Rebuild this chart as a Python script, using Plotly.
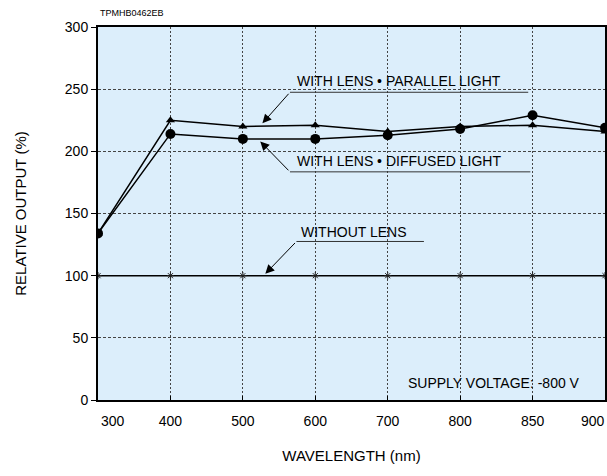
import plotly.graph_objects as go

# ---- data ----
wavelength_labels = ["300", "400", "500", "600", "700", "800", "850", "900"]
parallel_light = [134, 225, 220, 221, 216, 220, 221, 216]
diffused_light = [134, 214, 210, 210, 213, 218, 229, 219]
without_lens = [100, 100, 100, 100, 100, 100, 100, 100]
y_ticks = [0, 50, 100, 150, 200, 250, 300]

idx = list(range(len(wavelength_labels)))
# end labels are drawn as annotations (nudged inward, as in the reference)
tick_text = [""] + wavelength_labels[1:-1] + [""]

FONT = "Liberation Sans, Arial, Helvetica, sans-serif"

fig = go.Figure()
fig.add_trace(go.Scatter(x=idx, y=without_lens, mode="lines+markers",
                         line=dict(color="black", width=1.5),
                         marker=dict(symbol="asterisk-open", size=6, color="#222",
                                     line=dict(width=1, color="#222")),
                         name="WITHOUT LENS", showlegend=False))
fig.add_trace(go.Scatter(x=idx, y=diffused_light, mode="lines+markers",
                         line=dict(color="black", width=1.5),
                         marker=dict(symbol="circle", size=10, color="black"),
                         name="WITH LENS • DIFFUSED LIGHT", showlegend=False))
fig.add_trace(go.Scatter(x=idx, y=parallel_light, mode="lines+markers",
                         line=dict(color="black", width=1.5),
                         marker=dict(symbol="triangle-up", size=8, color="black"),
                         name="WITH LENS • PARALLEL LIGHT", showlegend=False))

grid_color = "#444444"
fig.update_xaxes(range=[0, len(idx) - 1], tickmode="array", tickvals=idx, ticktext=tick_text,
                 showgrid=True, gridcolor=grid_color, griddash="2px,2px", gridwidth=1,
                 showline=True, linecolor="black", linewidth=2, mirror=True,
                 ticks="inside", ticklen=4, tickcolor="black", ticklabelstandoff=7,
                 automargin=False,
                 tickfont=dict(size=14, color="black", family=FONT),
                 title=dict(text="WAVELENGTH (nm)", font=dict(size=15, color="black", family=FONT),
                            standoff=23),
                 zeroline=False)
fig.update_yaxes(range=[0, 300], tickmode="array", tickvals=y_ticks,
                 showgrid=True, gridcolor=grid_color, griddash="3px,2px", gridwidth=1,
                 showline=True, linecolor="black", linewidth=2, mirror=True,
                 ticks="outside", ticklen=5, tickcolor="black", automargin=False,
                 tickfont=dict(size=14, color="black", family=FONT),
                 title=dict(text="RELATIVE OUTPUT (%)", font=dict(size=15, color="black", family=FONT),
                            standoff=35),
                 zeroline=False)

tick_font = dict(size=14, color="black", family=FONT)
lab_font = dict(size=14, color="black", family=FONT)
anns = []
shapes = []

# end tick labels
anns.append(dict(x=idx[0], y=0, xref="x", yref="paper", text=wavelength_labels[0],
                 showarrow=False, xanchor="center", yanchor="top", xshift=15, yshift=-11,
                 font=tick_font))
anns.append(dict(x=idx[-1], y=0, xref="x", yref="paper", text=wavelength_labels[-1],
                 showarrow=False, xanchor="center", yanchor="top", xshift=-12, yshift=-11,
                 font=tick_font))

# label blocks: (text, text-left x, text y, underline y, underline x0, x1, tip x, tip y)
labels = [
    ("WITH LENS • PARALLEL LIGHT", 2.72, 256.5, 247.5, 2.65, 5.94, 2.27, 222.5),
    ("WITH LENS • DIFFUSED LIGHT", 2.72, 192.0, 183.5, 2.65, 5.97, 2.24, 208.0),
    ("WITHOUT LENS", 2.78, 135.5, 127.5, 2.74, 4.5, 2.31, 101.5),
]
for text, tx, ty, uy, ux0, ux1, tipx, tipy in labels:
    anns.append(dict(x=tx, y=ty, xref="x", yref="y", text=text, showarrow=False,
                     xanchor="left", yanchor="middle", font=lab_font))
    shapes.append(dict(type="line", xref="x", yref="y", x0=ux0, x1=ux1, y0=uy, y1=uy,
                       line=dict(color="#333", width=1)))
    anns.append(dict(x=tipx, y=tipy, xref="x", yref="y", ax=ux0, ay=uy, axref="x", ayref="y",
                     text="", showarrow=True, arrowhead=2, arrowsize=1.8, arrowwidth=1,
                     arrowcolor="black", standoff=0))

anns.append(dict(x=6.68, y=14, xref="x", yref="y", text="SUPPLY VOLTAGE: -800 V",
                 showarrow=False, xanchor="right", yanchor="middle", font=lab_font))
anns.append(dict(x=0.0, y=1.037, xref="paper", yref="paper", text="TPMHB0462EB",
                 showarrow=False, xanchor="left", yanchor="middle",
                 font=dict(size=9, color="black", family=FONT)))

fig.update_layout(width=607, height=476,
                  margin=dict(l=98, r=2, t=27, b=76),
                  paper_bgcolor="white", plot_bgcolor="#DCEEFB",
                  font=dict(family=FONT, color="black"),
                  annotations=anns, shapes=shapes, showlegend=False)

fig.write_html("out.html", config={"displayModeBar": False},
               post_script="document.body.style.margin='0';document.body.style.overflow='hidden';")
